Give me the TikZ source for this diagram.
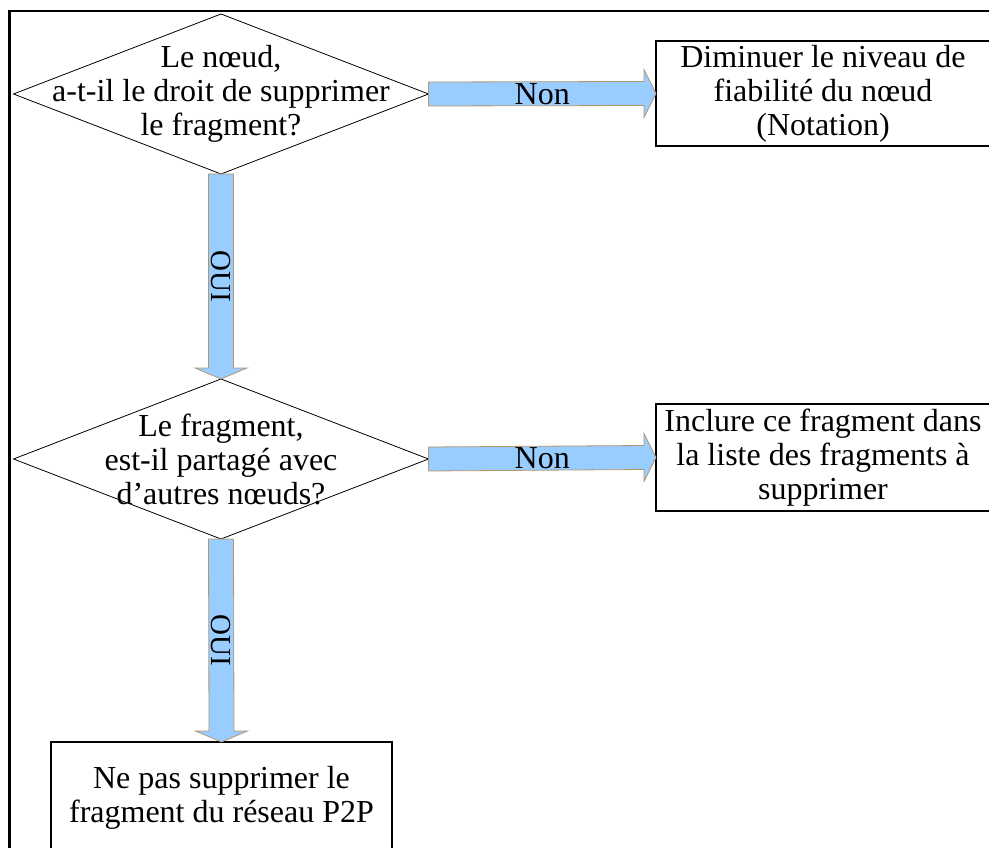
\documentclass[tikz,border=0pt]{standalone}
\usepackage{fontspec}
\setmainfont{Liberation Serif}
\usetikzlibrary{shapes.geometric,calc}

\definecolor{bleufleche}{HTML}{99CCFF}
\definecolor{bordfleche}{HTML}{B4966E}

\tikzset{
  question/.style={shape=diamond, draw, line width=0.8pt, inner sep=0pt, outer sep=0pt,
    minimum width=415pt, minimum height=160pt},
  qtexte/.style={align=center, font=\fontsize{32pt}{34pt}\selectfont, inner sep=0pt},
  action/.style={draw, line width=1.4pt, outer sep=0pt, align=center,
    font=\fontsize{32pt}{34pt}\selectfont},
  fleche/.style={fill=bleufleche, draw=bordfleche, line width=0.8pt, line join=miter},
  etiquette/.style={font=\fontsize{32pt}{34pt}\selectfont, inner sep=0pt}
}

\newcommand{\flechehor}[3]{%
  \draw[fleche] ($(#1)+(0,-12)$) -- ($(#2)+(-12,-12)$) -- ($(#2)+(-12,-24)$) -- (#2)
    -- ($(#2)+(-12,24)$) -- ($(#2)+(-12,12)$) -- ($(#1)+(0,12)$) -- cycle;
  \path (#1) -- (#2) node[midway, etiquette] {#3};}

\newcommand{\flechever}[3]{%
  \draw[fleche] ($(#1)+(-12.5,0)$) -- ($(#2)+(-12.5,-11)$) -- ($(#2)+(-26,-11)$) -- (#2)
    -- ($(#2)+(26,-11)$) -- ($(#2)+(12.5,-11)$) -- ($(#1)+(12.5,0)$) -- cycle;
  \path (#1) -- (#2) node[midway, etiquette, font=\fontsize{29pt}{30pt}\selectfont, rotate=-90] {#3};}

\begin{document}
\begin{tikzpicture}[x=1pt, y=-1pt]

  \useasboundingbox (0,0) rectangle (989,848);

  \draw[line width=2.5pt] (9.5,11) rectangle (1000,860);

  \node[question] (q1) at (221,94) {};
  \node[qtexte] (q1t) at (q1) {Le nœud,\\ a-t-il le droit de supprimer\\ le fragment?};

  \node[question] (q2) at (221,459) {};
  \node[qtexte] (q2t) at (q2) {Le fragment,\\ est-il partagé avec\\ d’autres nœuds?};

  \node[action, minimum width=334pt, minimum height=105pt] (r1) at (823,93.5)
    {Diminuer le niveau de\\ fiabilité du nœud\\ (Notation)};

  \node[action, minimum width=334pt, minimum height=107pt] (r2) at (823,457.5)
    {Inclure ce fragment dans\\ la liste des fragments à\\ supprimer};

  \node[action, anchor=north, minimum width=341pt, minimum height=112pt] (r3) at (221.5,742)
    {Ne pas supprimer le\\ fragment du réseau P2P};

  \flechehor{q1.east}{r1.west}{Non}
  \flechehor{q2.east}{r2.west}{Non}

  \flechever{q1.south}{q2.north}{OUI}
  \flechever{q2.south}{r3.north}{OUI}

\end{tikzpicture}
\end{document}
